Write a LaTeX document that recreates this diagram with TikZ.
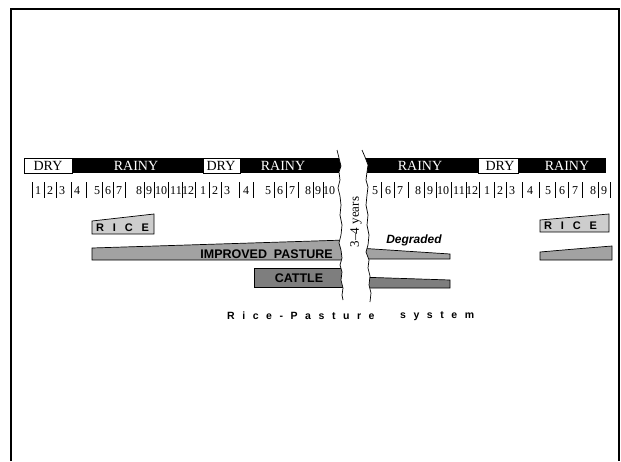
\documentclass[tikz,border=0pt]{standalone}
\usepackage{fontspec}
\setmainfont{Liberation Serif}
\newfontfamily\hv{Liberation Sans}
\newfontfamily\hvsp[LetterSpace=80]{Liberation Sans}
\newfontfamily\hvcap[LetterSpace=72]{Liberation Sans}
\definecolor{ricegray}{HTML}{CDCDCD}
\definecolor{pastgray}{HTML}{A2A2A2}
\definecolor{cattgray}{HTML}{7E7E7E}
\tikzset{
  drybox/.style={draw=black, fill=white, line width=0.8pt},
  rainybox/.style={fill=black},
  seasontxt/.style={font=\fontsize{14}{15}\selectfont, inner sep=0pt},
  numtxt/.style={font=\fontsize{12}{12}\selectfont, inner sep=0pt},
  tickline/.style={line width=0.8pt},
  barshape/.style={draw=black, line width=0.7pt},
  bartxt/.style={font=\hv\bfseries\fontsize{12.5}{13}\selectfont, inner sep=0pt},
  ricetxt/.style={font=\hvsp\bfseries\fontsize{11}{12}\selectfont, inner sep=0pt, anchor=west},
  captxt/.style={font=\hvcap\bfseries\fontsize{10.5}{12}\selectfont, inner sep=0pt, anchor=west},
  breakline/.style={line width=0.7pt}
}
\begin{document}
\begin{tikzpicture}[x=1pt,y=-1pt]
\useasboundingbox (0,0) rectangle (621,461);
% frame
\draw[line width=2pt] (11,461) -- (11,9) -- (619,9) -- (619,461);

% season bar
\draw[drybox] (24,158) rectangle (72,173);
\fill[rainybox] (72,158) rectangle (203,173);
\draw[drybox] (203,158) rectangle (240,173);
\fill[rainybox] (240,158) rectangle (346,173);
\fill[rainybox] (360,158) rectangle (478,173);
\draw[drybox] (478,158) rectangle (518,173);
\fill[rainybox] (518,158) rectangle (606,173);
\node[seasontxt] (d1) at (48,166) {DRY};
\node[seasontxt, text=white] (r1) at (136,166) {RAINY};
\node[seasontxt] (d2) at (221,166) {DRY};
\node[seasontxt, text=white] (r2) at (283,166) {RAINY};
\node[seasontxt, text=white] (r3) at (420,166) {RAINY};
\node[seasontxt] (d3) at (500,166) {DRY};
\node[seasontxt, text=white] (r4) at (567,166) {RAINY};

% month numbers
\foreach \x/\n [count=\i] in {38/1,50/2,62/3,77/4,97/5,108/6,119/7,139/8,149/9,161/10,176/11,188/12,203/1,215/2,227/3,246/4,268/5,280/6,292/7,308/8,318/9,329/10,
  375/5,388/6,400/7,418/8,430/9,443/10,459/11,472/12,487/1,500/2,512/3,530/4,548/5,562/6,575/7,593/8,604/9}
  \node[numtxt] (m\i) at (\x,191) {\n};
\foreach \x in {32,44,56,71,86,102.5,113.5,125,144,154.5,168,182,195.5,209,221,239,253,274,286,298,313,323.5,
  381,394,408,424,436,451,466,479,494,506,522,539,555,568,582,598,610}
  \draw[tickline] (\x,182) -- (\x,198);

% left part bars
\draw[barshape, fill=ricegray] (92,221) -- (154,214) -- (154,234) -- (92,234) -- cycle;
\node[ricetxt] (rice1) at (96,227.5) {RICE};
\draw[barshape, fill=pastgray] (92,248) -- (346,240) -- (346,260) -- (92,260) -- cycle;
\node[bartxt, anchor=east] (past1) at (333,254) {IMPROVED\ \ PASTURE};
\draw[barshape, fill=cattgray] (254,268) -- (346,268) -- (346,287) -- (254,287) -- cycle;
\node[bartxt] (catt1) at (299,278) {CATTLE};

% right part bars
\node[font=\hv\bfseries\itshape\fontsize{12}{13}\selectfont, inner sep=0pt] (degr) at (414,240) {Degraded};
\draw[barshape, fill=pastgray] (358,248) -- (450,254) -- (450,259) -- (358,259) -- cycle;
\draw[barshape, fill=cattgray] (358,277) -- (450,280) -- (450,288) -- (358,288) -- cycle;
\draw[barshape, fill=ricegray] (540,220) -- (609,214) -- (609,232) -- (540,232) -- cycle;
\node[ricetxt] (rice2) at (544,225.5) {RICE};
\draw[barshape, fill=pastgray] (540,252) -- (575,249) -- (612,246) -- (612,260) -- (540,260) -- cycle;

% break
\fill[white] (337,150) -- (339,158) -- (341,166) -- (339,172) -- (340,180) -- (338,188) -- (340,196) -- (341,205) -- (340,215) -- (342,225) -- (341,235) -- (339,243) -- (341,250) -- (342,258) -- (340,265) -- (342,272) -- (341,280) -- (343,288) -- (342,295) -- (343,300)
  -- (370,302) -- (371,293) -- (369,285) -- (370,276) -- (368,268) -- (369,260) -- (366,252) -- (368,245) -- (369,235) -- (367,225) -- (368,215) -- (366,205) -- (367,195) -- (368,187) -- (366,180) -- (367,172) -- (368,165) -- (365,157) -- (362,150) -- cycle;
\draw[breakline] (337,150) -- (339,158) -- (341,166) -- (339,172) -- (340,180) -- (338,188) -- (340,196) -- (341,205) -- (340,215) -- (342,225) -- (341,235) -- (339,243) -- (341,250) -- (342,258) -- (340,265) -- (342,272) -- (341,280) -- (343,288) -- (342,295) -- (343,300);
\draw[breakline] (362,150) -- (365,157) -- (368,165) -- (367,172) -- (366,180) -- (368,187) -- (367,195) -- (366,205) -- (368,215) -- (367,225) -- (369,235) -- (368,245) -- (366,252) -- (369,260) -- (368,268) -- (370,276) -- (369,285) -- (371,293) -- (370,302);
\node[rotate=90, font=\fontsize{13}{14}\selectfont, inner sep=0pt] (yrs) at (356,222) {3--4 years};

% caption
\node[captxt] (cap1) at (227,316) {Rice-Pasture};
\node[captxt] (cap2) at (400,316) {system};
\end{tikzpicture}
\end{document}
